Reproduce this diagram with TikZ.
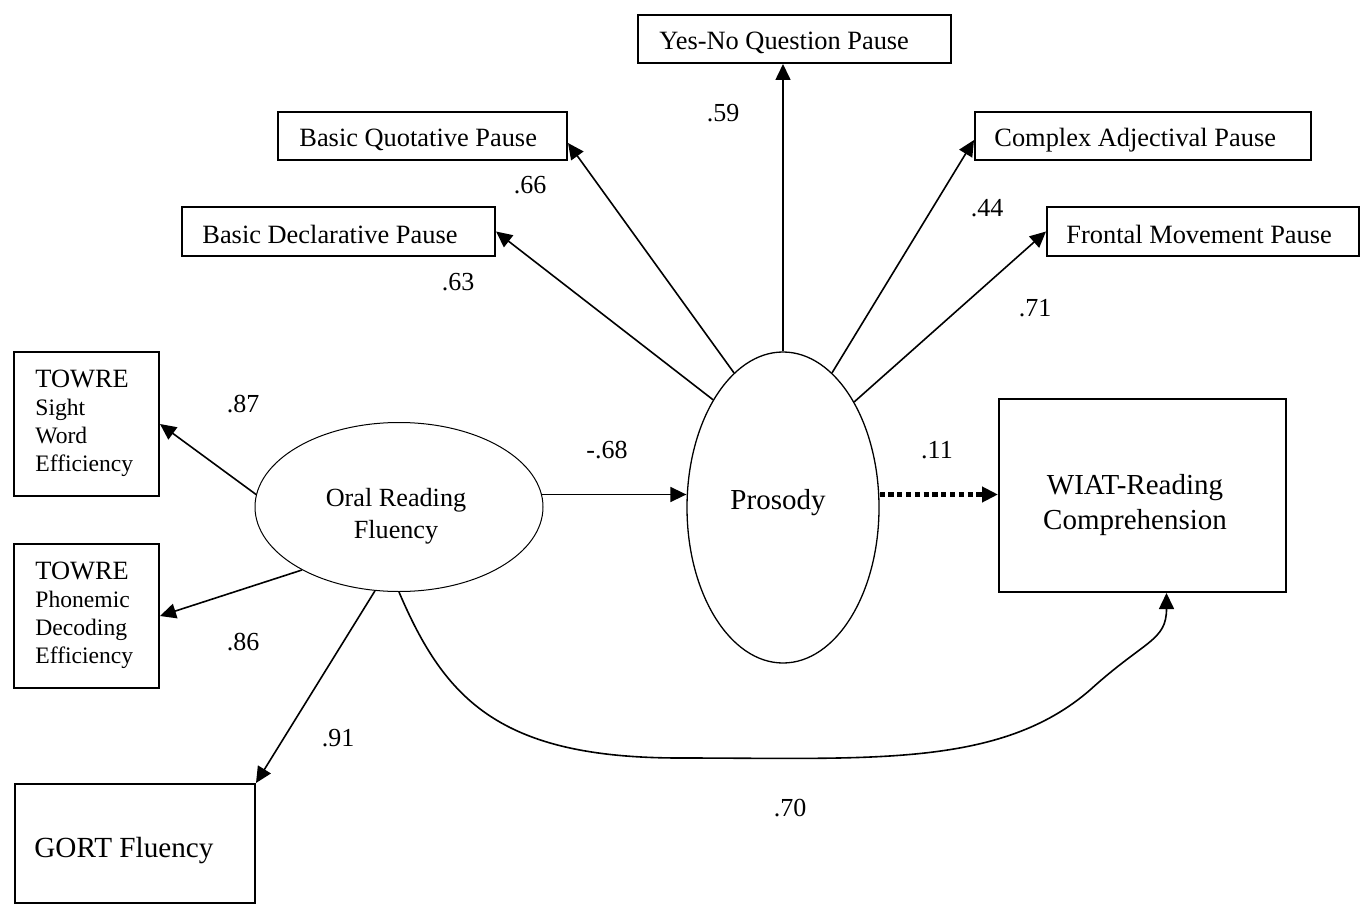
\documentclass[tikz,border=0pt]{standalone}
\usepackage{fontspec}
\setmainfont{Liberation Serif}
\usetikzlibrary{arrows.meta,shapes.geometric}
\begin{document}
\begin{tikzpicture}[x=0.5pt,y=-0.5pt,
  box/.style={draw,line width=1pt,rectangle,inner sep=0pt},
  lat/.style={draw,ellipse,inner sep=0pt},
  lbl/.style={anchor=west,inner sep=0pt,font=\fontsize{13.2}{15}\selectfont},
  coef/.style={inner sep=0pt,font=\fontsize{13}{15}\selectfont},
  arr/.style={line width=0.8pt,-{Triangle[length=8pt,width=7.5pt]}},
  dotarr/.style={line width=2.2pt,dash pattern=on 2.6pt off 1.8pt,-{Triangle[length=8pt,width=7.5pt]}},
  ]
\fill[white] (0,0) rectangle (1364,909);
\useasboundingbox (0,0) rectangle (1364,909);

% observed indicators (pause boxes)
\node[box,minimum width=156.5pt,minimum height=24pt] (ynq) at (794.5,39) {};
\node[lbl] (ynqt) at ([xshift=11pt,yshift=-2pt]ynq.west) {Yes-No Question Pause};
\node[box,minimum width=144.5pt,minimum height=24pt] (bqp) at (422.5,136) {};
\node[lbl] (bqpt) at ([xshift=11pt,yshift=-2pt]bqp.west) {Basic Quotative Pause};
\node[box,minimum width=156.5pt,minimum height=24.5pt] (bdp) at (338.5,231.5) {};
\node[lbl] (bdpt) at ([xshift=10.5pt,yshift=-1.5pt]bdp.west) {Basic Declarative Pause};
\node[box,minimum width=168pt,minimum height=24pt] (cap) at (1143,136) {};
\node[lbl] (capt) at ([xshift=10pt,yshift=-2pt]cap.west) {Complex Adjectival Pause};
\node[box,minimum width=156pt,minimum height=24.5pt] (fmp) at (1203,231.5) {};
\node[lbl] (fmpt) at ([xshift=10pt,yshift=-1.5pt]fmp.west) {Frontal Movement Pause};

% TOWRE boxes
\node[box,minimum width=72.5pt,minimum height=72pt] (sight) at (86.5,424) {};
\node[anchor=west,align=left,inner sep=0pt,font=\fontsize{11.8}{14}\selectfont] (sightt) at ([xshift=11pt,yshift=0.5pt]sight.west) {{\fontsize{13.2}{14}\selectfont TOWRE}\\Sight\\Word\\Efficiency};
\node[box,minimum width=72.5pt,minimum height=72pt] (phon) at (86.5,616) {};
\node[anchor=west,align=left,inner sep=0pt,font=\fontsize{11.8}{14}\selectfont] (phont) at ([xshift=11pt,yshift=0.5pt]phon.west) {{\fontsize{13.2}{14}\selectfont TOWRE}\\Phonemic\\Decoding\\Efficiency};

% GORT
\node[box,minimum width=120pt,minimum height=59.5pt] (gort) at (135,843.5) {};
\node[anchor=west,inner sep=0pt,font=\fontsize{14.6}{17}\selectfont] (gortt) at ([xshift=10pt,yshift=-3.75pt]gort.west) {GORT Fluency};

% WIAT
\node[box,minimum width=143.5pt,minimum height=96.5pt] (wiat) at (1142.5,495.5) {};
\node[align=center,inner sep=0pt,font=\fontsize{14.5}{17.5}\selectfont] (wiatt) at (1135,505) {WIAT-Reading\\Comprehension};

% latent variables
\node[lat,line width=0.5pt,minimum width=144pt,minimum height=84.5pt] (orf) at (399,507) {};
\node[align=center,inner sep=0pt,font=\fontsize{13.1}{16}\selectfont] (orft) at (396,516.5) {Oral Reading\\Fluency};
\node[lat,line width=0.65pt,minimum width=96pt,minimum height=155.5pt] (pro) at (783,507.5) {};
\node[inner sep=0pt,font=\fontsize{14.5}{17}\selectfont] (prot) at (778,503) {Prosody};

% prosody loadings
\draw[arr] (pro.north) -- (pro.north |- ynq.south);
\draw[arr] (pro.110) -- ([yshift=-3.5pt]bqp.east);
\draw[arr] (pro.123) -- (bdp.east);
\draw[arr] (pro.70) -- ([yshift=-2pt]cap.west);
\draw[arr] (pro.56) -- (fmp.west);

% fluency loadings
\draw[arr] (orf.175) -- (sight.east);
\draw[arr] (orf.213) -- (phon.east);
\draw[arr] (orf.254) -- (gort.north east);

% structural paths
\draw[arr] (orf.5) -- (orf.5 -| pro.west);
\draw[dotarr] (orf.5 -| pro.east) -- (orf.5 -| wiat.west);
\draw[arr] (orf.south) .. controls (445,700) and (500,758) .. (680,758)
  .. controls (870,758) and (1000,768) .. (1090,690)
  .. controls (1145,640) and ([xshift=12pt,yshift=-24pt]wiat.south) .. ([xshift=12pt]wiat.south);

% coefficients
\node[coef] (c59) at (723,113) {.59};
\node[coef] (c66) at (530,185) {.66};
\node[coef] (c63) at (458,282) {.63};
\node[coef] (c44) at (987,208) {.44};
\node[coef] (c71) at (1035,308) {.71};
\node[coef] (c87) at (243,404) {.87};
\node[coef] (c86) at (243,642) {.86};
\node[coef] (c91) at (338,738) {.91};
\node[coef] (c68) at (607,450) {-.68};
\node[coef] (c11) at (937,450) {.11};
\node[coef] (c70) at (790,808) {.70};
\end{tikzpicture}
\end{document}
